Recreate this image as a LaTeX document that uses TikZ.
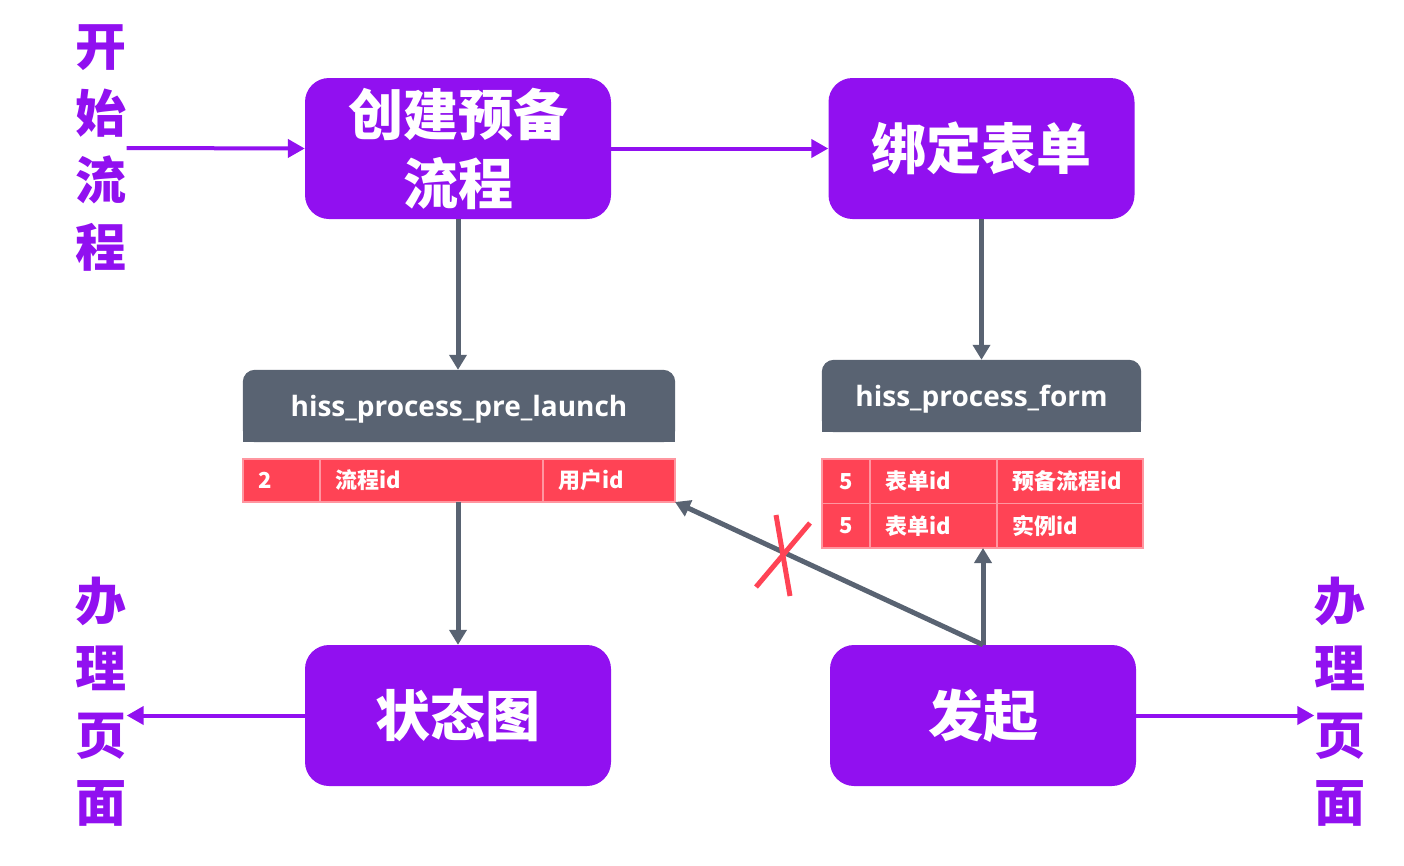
\documentclass[tikz,border=0pt]{standalone}
\usepackage{fontspec}
\setmainfont{Noto Sans CJK SC}
\newfontfamily\lat{Open Sans}
\usetikzlibrary{arrows.meta,backgrounds}
\definecolor{pur}{RGB}{145,16,240}
\definecolor{hdr}{RGB}{89,99,114}
\definecolor{tred}{RGB}{255,67,85}
\definecolor{tline}{RGB}{255,150,160}
\begin{document}
\begin{tikzpicture}[x=1pt,y=-1pt,
 bigbox/.style={fill=pur, rounded corners=24pt, minimum width=306pt, minimum height=141pt, text=white, font=\fontsize{55}{69}\selectfont\bfseries, align=center, inner sep=0pt},
 side/.style={text=pur, font=\fontsize{51}{67}\selectfont\bfseries, align=center, inner sep=0pt},
 hdrnode/.style={text=white, font=\lat\bfseries\fontsize{28}{34}\selectfont, inner sep=0pt, minimum height=72pt},
 cell/.style={fill=tred, draw=tline, line width=1.2pt, outer sep=0pt, anchor=north west, text=white, font=\fontsize{22}{26}\selectfont\bfseries, inner xsep=15pt, inner ysep=0pt, align=left},
 parrow/.style={draw=pur, line width=4pt, -{Triangle[length=17pt,width=18pt]}},
 garrow/.style={draw=hdr, line width=5pt, -{Triangle[length=15pt,width=17pt]}},
 xmark/.style={draw=tred, line width=5pt},
]
\useasboundingbox (0,0) rectangle (1404,865);
% big boxes
\node[bigbox] (A) at (458,148.5) {创建预备\\流程};
\node[bigbox] (B) at (981.5,148.5) {绑定表单};
\node[bigbox] (C) at (458,715.5) {状态图};
\node[bigbox] (D) at (983,715.5) {发起};
% side texts
\node[side] (S1) at (101,148) {开\\始\\流\\程};
\node[side] (S2) at (101,702) {办\\理\\页\\面};
\node[side] (S3) at (1340,702) {办\\理\\页\\面};
% headers
\node[hdrnode, minimum width=432pt] (H1) at (459,406) {\raisebox{-3pt}[\height][\depth]{hiss\_process\_pre\_launch}};
\node[hdrnode, minimum width=319pt] (H2) at (981.5,396) {\raisebox{-3pt}[\height][\depth]{hiss\_process\_form}};
\begin{scope}[on background layer]
\fill[hdr, rounded corners=12pt] (H1.south west) rectangle (H1.north east);
\fill[hdr] (H1.south west) rectangle (H1.east);
\fill[hdr, rounded corners=12pt] (H2.south west) rectangle (H2.north east);
\fill[hdr] (H2.south west) rectangle (H2.east);
\end{scope}
% table 1
\node[cell, text width=47pt, minimum height=43pt] (t11) at (243,459) {2};
\node[cell, text width=193pt, minimum height=43pt] (t12) at (t11.north east) {流程id};
\node[cell, text width=102pt, minimum height=43pt] (t13) at (t12.north east) {用户id};
% table 2
\node[cell, text width=18pt, align=center, minimum height=44.5pt] (t21) at (822,459) {5};
\node[cell, text width=97pt, minimum height=44.5pt] (t22) at (t21.north east) {表单id};
\node[cell, text width=116pt, minimum height=44.5pt] (t23) at (t22.north east) {预备流程id};
\node[cell, text width=18pt, align=center, minimum height=44.5pt] (t31) at (t21.south west) {5};
\node[cell, text width=97pt, minimum height=44.5pt] (t32) at (t31.north east) {表单id};
\node[cell, text width=116pt, minimum height=44.5pt] (t33) at (t32.north east) {实例id};
% connectors
\draw[parrow] (S1.east) -- (A.west);
\draw[parrow] (A.east) -- (B.west);
\draw[garrow] (A.south) -- (H1.north -| A.south);
\draw[garrow] (B.south) -- (H2.north -| B.south);
\draw[garrow] (t12.south -| A.south) -- (C.north);
\draw[garrow] (D.north) -- (D.north |- t32.south);
\draw[garrow] (D.north) -- (t13.south east);
\draw[parrow] (C.west) -- (C.west -| S2.east);
\draw[parrow] (D.east) -- (D.east -| S3.west);
% red cross
\draw[xmark] (756,587) -- (810,523);
\draw[xmark] (776,515) -- (790,596);
\end{tikzpicture}
\end{document}
